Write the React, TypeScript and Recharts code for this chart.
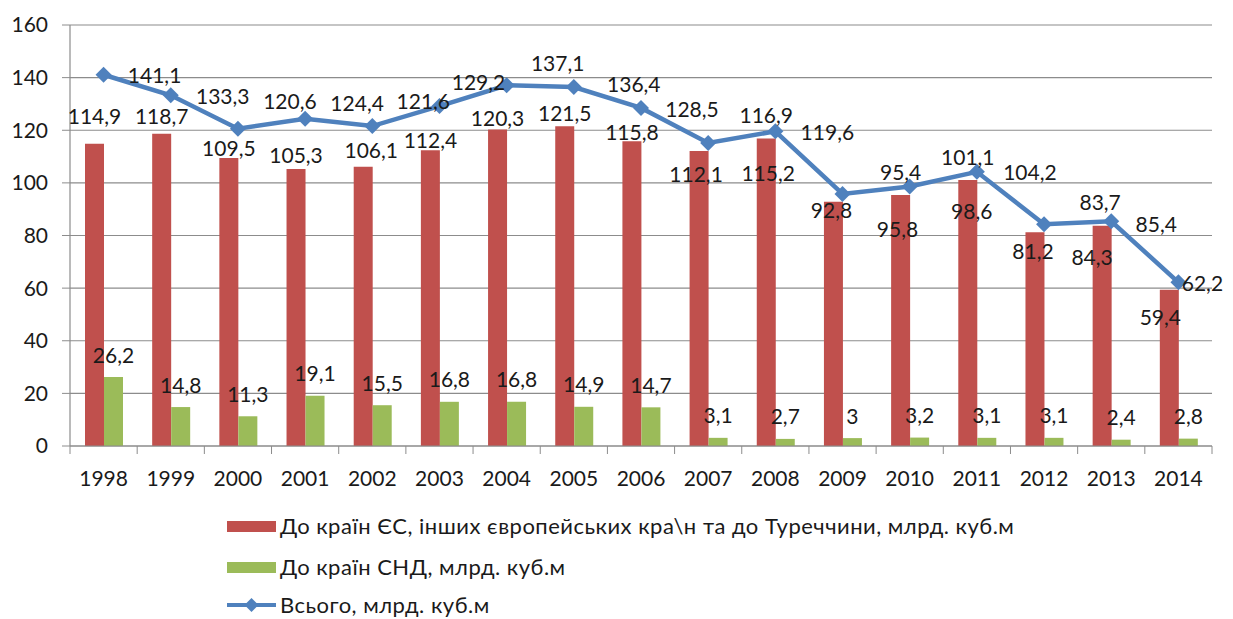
import { ComposedChart, Bar, Line, XAxis, YAxis, CartesianGrid, LabelList } from "recharts";

const years = ["1998", "1999", "2000", "2001", "2002", "2003", "2004", "2005", "2006", "2007", "2008", "2009", "2010", "2011", "2012", "2013", "2014"];
const euValues = [114.9, 118.7, 109.5, 105.3, 106.1, 112.4, 120.3, 121.5, 115.8, 112.1, 116.9, 92.8, 95.4, 101.1, 81.2, 83.7, 59.4];
const cisValues = [26.2, 14.8, 11.3, 19.1, 15.5, 16.8, 16.8, 14.9, 14.7, 3.1, 2.7, 3, 3.2, 3.1, 3.1, 2.4, 2.8];
const totalValues = [141.1, 133.3, 120.6, 124.4, 121.6, 129.2, 137.1, 136.4, 128.5, 115.2, 119.6, 95.8, 98.6, 104.2, 84.3, 85.4, 62.2];
const yTicks = [0, 20, 40, 60, 80, 100, 120, 140, 160];

const euName = "До країн ЄС, інших європейських кра\\н та до Туреччини, млрд. куб.м";
const cisName = "До країн СНД, млрд. куб.м";
const totalName = "Всього, млрд. куб.м";

// label placement (manual, as in the source chart)
const totalLabelShift = [[51, 0], [52, 0], [52, -28], [52, -16], [51, -26], [39, -25], [51, -23], [60, -4], [51, 1], [60, 30], [52, 0], [55, 35], [62, 24], [53, 0], [48, 32], [45, 2], [24, 0]];
const euLabelShift = [[0, -28], [0, -18], [0, -10], [0, -14], [8, -17], [0, -11], [0, -12], [0, -14], [0, -10], [-3, 22], [0, -24], [-2, 8], [0, -23], [0, -23], [-2, 18], [-2, -24], [-9, 27]];

const RED = "#C0504D";
const GREEN = "#9BBB59";
const BLUE = "#4F81BD";
const GRID = "#8C8C8C";
const FONT = "Lato, 'Open Sans', sans-serif";

const data = years.map((year, i) => ({
  year,
  eu: euValues[i],
  cis: cisValues[i],
  total: totalValues[i],
}));

const fmt = (v: number) => String(v).replace(".", ",");

const labelText = (x: number, y: number, v: number) => (
  <text x={x} y={y} textAnchor="middle" dominantBaseline="central" fontSize={21} fontFamily={FONT} fill="#1a1a1a">
    {fmt(v)}
  </text>
);

const EuLabel = (p: any) => {
  const [dx, dy] = euLabelShift[p.index] || [0, -20];
  return labelText(p.x + p.width / 2 + dx, p.y + dy, p.value);
};

const CisLabel = (p: any) => labelText(p.x + p.width / 2, p.y - 23, p.value);

const TotalLabel = (p: any) => {
  const [dx, dy] = totalLabelShift[p.index] || [50, 0];
  return labelText(p.x + dx, p.y + dy, p.value);
};

const renderDiamond = (p: any) => (
  <path
    key={`dot-${p.index}`}
    d={`M${p.cx},${p.cy - 8} L${p.cx + 8},${p.cy} L${p.cx},${p.cy + 8} L${p.cx - 8},${p.cy} Z`}
    fill={BLUE}
  />
);

const YearTick = (props: any) => {
  const { x, y, payload, index } = props;
  const half = payload.offset || 33.6;
  return (
    <g>
      <line x1={x - half} x2={x - half} y1={y} y2={y + 8} stroke={GRID} />
      {index === years.length - 1 && <line x1={x + half} x2={x + half} y1={y} y2={y + 8} stroke={GRID} />}
      <text x={x} y={y + 31} textAnchor="middle" dominantBaseline="central" fontSize={21} fontFamily={FONT} fill="#1a1a1a">
        {payload.value}
      </text>
    </g>
  );
};

const legendRow = {
  position: "absolute" as const,
  left: 227,
  height: 22,
  lineHeight: "22px",
  display: "flex",
  alignItems: "center",
  fontFamily: FONT,
  fontSize: 22,
  letterSpacing: 0.5,
  color: "#1a1a1a",
  whiteSpace: "nowrap" as const,
};

export default function App() {
  return (
    <div style={{ position: "absolute", left: 0, top: 0, width: 1233, height: 619, background: "#fff" }}>
      <ComposedChart
        width={1233}
        height={500}
        data={data}
        margin={{ top: 25, right: 21, left: 0, bottom: 14 }}
        barSize={19}
        barGap={0}
      >
        <CartesianGrid vertical={false} stroke={GRID} strokeWidth={1.2} />
        <XAxis
          dataKey="year"
          height={40}
          tickLine={false}
          tickSize={0}
          tickMargin={0}
          axisLine={{ stroke: GRID, strokeWidth: 1.2 }}
          tick={<YearTick />}
          interval={0}
        />
        <YAxis
          width={70}
          domain={[0, 160]}
          ticks={yTicks}
          tickSize={8}
          tickMargin={14}
          tickLine={{ stroke: GRID }}
          axisLine={{ stroke: GRID, strokeWidth: 1.2 }}
          tick={{ fontSize: 21, fontFamily: FONT, fill: "#1a1a1a" }}
        />
        <Bar dataKey="eu" name={euName} fill={RED} isAnimationActive={false}>
          <LabelList dataKey="eu" content={<EuLabel />} />
        </Bar>
        <Bar dataKey="cis" name={cisName} fill={GREEN} isAnimationActive={false}>
          <LabelList dataKey="cis" content={<CisLabel />} />
        </Bar>
        <Line
          dataKey="total"
          name={totalName}
          stroke={BLUE}
          strokeWidth={4.5}
          dot={renderDiamond}
          activeDot={false}
          isAnimationActive={false}
        >
          <LabelList dataKey="total" content={<TotalLabel />} />
        </Line>
      </ComposedChart>

      <div style={{ ...legendRow, top: 515 }}>
        <span style={{ display: "inline-block", width: 49, height: 11, background: RED, marginRight: 4 }} />
        <span>{euName}</span>
      </div>
      <div style={{ ...legendRow, top: 556 }}>
        <span style={{ display: "inline-block", width: 49, height: 11, background: GREEN, marginRight: 4 }} />
        <span>{cisName}</span>
      </div>
      <div style={{ ...legendRow, top: 594 }}>
        <svg width={49} height={16} style={{ marginRight: 4 }}>
          <line x1={0} x2={49} y1={8} y2={8} stroke={BLUE} strokeWidth={4} />
          <path d="M24.5,1 L31.5,8 L24.5,15 L17.5,8 Z" fill={BLUE} />
        </svg>
        <span>{totalName}</span>
      </div>
    </div>
  );
}
